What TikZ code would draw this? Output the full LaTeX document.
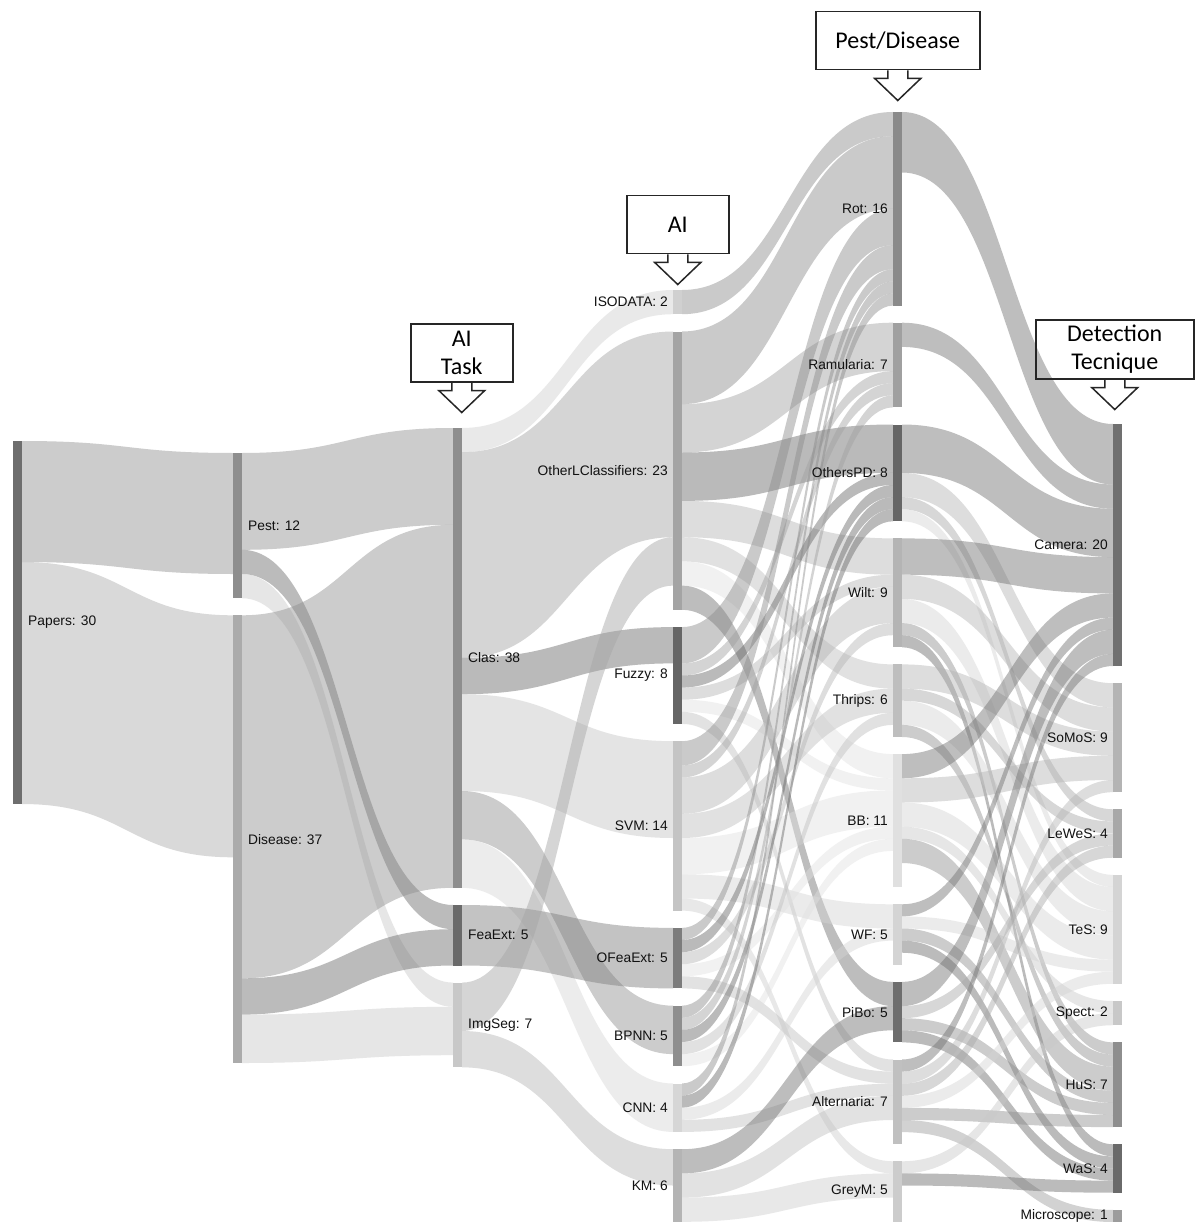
\documentclass[tikz,border=0pt]{standalone}
\usepackage{fontspec}
\setmainfont{Liberation Sans}
\newfontfamily\hfont{Carlito}
\usetikzlibrary{calc}
% node colours (links take the colour of their target node)
\definecolor{cpapers}{HTML}{6E6E6E}
\definecolor{cpest}{HTML}{8E8E8E}
\definecolor{cdisease}{HTML}{ABABAB}
\definecolor{cclas}{HTML}{8E8E8E}
\definecolor{cfeaext}{HTML}{6A6A6A}
\definecolor{cimgseg}{HTML}{C8C8C8}
\definecolor{cisodata}{HTML}{D0D0D0}
\definecolor{colc}{HTML}{A4A4A4}
\definecolor{cfuzzy}{HTML}{666666}
\definecolor{csvm}{HTML}{C4C4C4}
\definecolor{cofeaext}{HTML}{7C7C7C}
\definecolor{cbpnn}{HTML}{8E8E8E}
\definecolor{ccnn}{HTML}{D6D6D6}
\definecolor{ckm}{HTML}{B4B4B4}
\definecolor{crot}{HTML}{8A8A8A}
\definecolor{cramularia}{HTML}{A0A0A0}
\definecolor{cotherspd}{HTML}{666666}
\definecolor{cwilt}{HTML}{B4B4B4}
\definecolor{cthrips}{HTML}{BEBEBE}
\definecolor{cbb}{HTML}{E0E0E0}
\definecolor{cwf}{HTML}{D4D4D4}
\definecolor{cpibo}{HTML}{6E6E6E}
\definecolor{calternaria}{HTML}{C0C0C0}
\definecolor{cgreym}{HTML}{CCCCCC}
\definecolor{ccamera}{HTML}{707070}
\definecolor{csomos}{HTML}{B4B4B4}
\definecolor{clewes}{HTML}{A8A8A8}
\definecolor{ctes}{HTML}{D4D4D4}
\definecolor{cspect}{HTML}{C8C8C8}
\definecolor{chus}{HTML}{8E8E8E}
\definecolor{cwas}{HTML}{6A6A6A}
\definecolor{cmicroscope}{HTML}{9C9C9C}
\definecolor{txt}{HTML}{111111}
\def\U{12.1pt}
\def\fop{0.45}
% band from node #1 (offset #2 units) to node #3 (offset #4 units), width #5 units
\newcommand{\sflow}[5]{%
  \fill[fill=c#3, fill opacity=\fop] let \p1=(#1.north east), \p2=(#3.north west) in
    (\x1,{\y1-(#2)*\U}) .. controls ({(\x1+\x2)/2},{\y1-(#2)*\U}) and ({(\x1+\x2)/2},{\y2-(#4)*\U}) .. (\x2,{\y2-(#4)*\U})
    -- (\x2,{\y2-(#4+#5)*\U}) .. controls ({(\x1+\x2)/2},{\y2-(#4+#5)*\U}) and ({(\x1+\x2)/2},{\y1-(#2+#5)*\U}) .. (\x1,{\y1-(#2+#5)*\U}) -- cycle;}
\newcommand{\sbar}[4]{\node[bar, fill=c#1, minimum height={#4*12.1pt}] (#1) at (#2,#3) {};}
\newcommand{\lblR}[2]{\node[lbl, anchor=west] (l#1) at ([xshift=6pt]#1.east) {#2};}
\newcommand{\lblL}[2]{\node[lbl, anchor=east] (l#1) at ([xshift=-5pt]#1.west) {#2};}
\tikzset{
  bar/.style={rectangle, inner sep=0pt, outer sep=0pt, minimum width=9pt, anchor=north west, draw=none},
  lbl/.style={text=txt, inner sep=0pt, font=\fontsize{13.8}{16}\selectfont},
  hbox/.style={draw=black!85, line width=1.5pt, rectangle, align=center, inner sep=0pt, anchor=north west,
     font=\hfont\fontsize{24}{28}\selectfont},
  harrow/.style={draw=black!85, line width=1.5pt, line join=miter}
}
\begin{document}
\begin{tikzpicture}[x=1pt, y=-1pt]
\fill[white] (0,0) rectangle (1194,1222);
\useasboundingbox (0,0) rectangle (1194,1222);
% ---------- bars ----------
\sbar{papers}{13}{441}{30}
\sbar{pest}{233}{453}{12}
\sbar{disease}{233}{615.3}{37}
\sbar{clas}{453}{428}{38}
\sbar{feaext}{453}{905}{5}
\sbar{imgseg}{453}{982.6}{7}
\sbar{isodata}{673}{290}{2}
\sbar{olc}{673}{331.5}{23}
\sbar{fuzzy}{673}{627.1}{8}
\sbar{svm}{673}{741.2}{14}
\sbar{ofeaext}{673}{927.9}{5}
\sbar{bpnn}{673}{1005.7}{5}
\sbar{cnn}{673}{1083.5}{4}
\sbar{km}{673}{1149.2}{6}
\sbar{rot}{893}{112}{16}
\sbar{ramularia}{893}{322.7}{7}
\sbar{otherspd}{893}{424.5}{8}
\sbar{wilt}{893}{538.4}{9}
\sbar{thrips}{893}{664.4}{6}
\sbar{bb}{893}{754.1}{11}
\sbar{wf}{893}{904.3}{5}
\sbar{pibo}{893}{981.9}{5}
\sbar{alternaria}{893}{1059.5}{7}
\sbar{greym}{893}{1161.3}{5}
\sbar{camera}{1113}{424}{20}
\sbar{somos}{1113}{683.2}{9}
\sbar{lewes}{1113}{809.3}{4}
\sbar{tes}{1113}{874.9}{9}
\sbar{spect}{1113}{1001}{2}
\sbar{hus}{1113}{1042.4}{7}
\sbar{was}{1113}{1144.3}{4}
\sbar{microscope}{1113}{1209.9}{1}
% ---------- flows: papers -> pest/disease ----------
\sflow{papers}{0}{pest}{0}{10}
\sflow{papers}{10}{disease}{0}{20}
% ---------- pest/disease -> AI task ----------
\sflow{pest}{0}{clas}{0}{8}
\sflow{pest}{8}{feaext}{0}{2}
\sflow{pest}{10}{imgseg}{0}{2}
\sflow{disease}{0}{clas}{8}{30}
\sflow{disease}{30}{feaext}{2}{3}
\sflow{disease}{33}{imgseg}{2}{4}
% ---------- AI task -> AI ----------
\sflow{clas}{0}{isodata}{0}{2}
\sflow{clas}{2}{olc}{0}{17}
\sflow{clas}{19}{fuzzy}{0}{3}
\sflow{clas}{22}{svm}{0}{8}
\sflow{clas}{30}{bpnn}{0}{4}
\sflow{clas}{34}{cnn}{0}{4}
\sflow{feaext}{0}{ofeaext}{0}{5}
\sflow{imgseg}{0}{olc}{17}{4}
\sflow{imgseg}{4}{km}{0}{3}
% ---------- AI -> pest/disease ----------
\sflow{isodata}{0}{rot}{0}{2}
\sflow{olc}{0}{rot}{2}{6}
\sflow{olc}{6}{ramularia}{0}{4}
\sflow{olc}{10}{otherspd}{0}{4}
\sflow{olc}{14}{wilt}{0}{3}
\sflow{olc}{17}{thrips}{0}{2}
\sflow{olc}{19}{bb}{0}{2}
\sflow{olc}{21}{pibo}{0}{2}
\sflow{fuzzy}{0}{rot}{8}{3}
\sflow{fuzzy}{3}{ramularia}{4}{1}
\sflow{fuzzy}{4}{otherspd}{4}{1}
\sflow{fuzzy}{5}{wilt}{3}{1}
\sflow{fuzzy}{6}{bb}{2}{1}
\sflow{fuzzy}{7}{alternaria}{0}{1}
\sflow{svm}{0}{rot}{11}{2}
\sflow{svm}{2}{ramularia}{5}{1}
\sflow{svm}{3}{wilt}{4}{3}
\sflow{svm}{6}{thrips}{2}{2}
\sflow{svm}{8}{bb}{3}{3}
\sflow{svm}{11}{wf}{0}{2}
\sflow{svm}{13}{greym}{0}{1}
\sflow{ofeaext}{0}{rot}{13}{1}
\sflow{ofeaext}{1}{otherspd}{5}{1}
\sflow{ofeaext}{2}{wilt}{7}{1}
\sflow{ofeaext}{3}{bb}{6}{1}
\sflow{ofeaext}{4}{alternaria}{1}{1}
\sflow{bpnn}{0}{rot}{14}{1}
\sflow{bpnn}{1}{ramularia}{6}{1}
\sflow{bpnn}{2}{otherspd}{6}{1}
\sflow{bpnn}{3}{thrips}{4}{1}
\sflow{bpnn}{4}{bb}{7}{1}
\sflow{cnn}{0}{rot}{15}{1}
\sflow{cnn}{1}{otherspd}{7}{1}
\sflow{cnn}{2}{wf}{2}{1}
\sflow{cnn}{3}{alternaria}{2}{1}
\sflow{km}{0}{pibo}{2}{2}
\sflow{km}{2}{alternaria}{3}{2}
\sflow{km}{4}{greym}{1}{2}
% ---------- pest/disease -> detection technique ----------
\sflow{rot}{0}{camera}{0}{5}
\sflow{ramularia}{0}{camera}{5}{2}
\sflow{otherspd}{0}{camera}{7}{4}
\sflow{otherspd}{4}{somos}{0}{2}
\sflow{otherspd}{6}{lewes}{0}{1}
\sflow{otherspd}{7}{tes}{0}{1}
\sflow{wilt}{0}{camera}{11}{3}
\sflow{wilt}{3}{somos}{2}{2}
\sflow{wilt}{5}{tes}{1}{2}
\sflow{wilt}{7}{hus}{0}{1}
\sflow{wilt}{8}{was}{0}{1}
\sflow{thrips}{0}{somos}{4}{2}
\sflow{thrips}{2}{lewes}{1}{1}
\sflow{thrips}{3}{tes}{3}{2}
\sflow{thrips}{5}{hus}{1}{1}
\sflow{bb}{0}{camera}{14}{2}
\sflow{bb}{2}{somos}{6}{2}
\sflow{bb}{4}{tes}{5}{2}
\sflow{bb}{6}{spect}{0}{1}
\sflow{bb}{7}{hus}{2}{2}
\sflow{wf}{0}{camera}{16}{1}
\sflow{wf}{1}{tes}{7}{1}
\sflow{wf}{2}{hus}{4}{1}
\sflow{wf}{3}{was}{1}{1}
\sflow{pibo}{0}{camera}{17}{2}
\sflow{pibo}{2}{lewes}{2}{1}
\sflow{pibo}{3}{hus}{5}{1}
\sflow{pibo}{4}{was}{2}{1}
\sflow{alternaria}{0}{camera}{19}{1}
\sflow{alternaria}{1}{somos}{8}{1}
\sflow{alternaria}{2}{lewes}{3}{1}
\sflow{alternaria}{3}{tes}{8}{1}
\sflow{alternaria}{4}{hus}{6}{1}
\sflow{alternaria}{5}{microscope}{0}{1}
\sflow{greym}{0}{spect}{1}{1}
\sflow{greym}{1}{was}{3}{1}
% ---------- labels ----------
\lblR{papers}{Papers: 30}
\lblR{pest}{Pest: 12}
\lblR{disease}{Disease: 37}
\lblR{clas}{Clas: 38}
\lblR{feaext}{FeaExt: 5}
\lblR{imgseg}{ImgSeg: 7}
\lblL{isodata}{ISODATA: 2}
\lblL{olc}{OtherLClassifiers: 23}
\lblL{fuzzy}{Fuzzy: 8}
\lblL{svm}{SVM: 14}
\lblL{ofeaext}{OFeaExt: 5}
\lblL{bpnn}{BPNN: 5}
\lblL{cnn}{CNN: 4}
\lblL{km}{KM: 6}
\lblL{rot}{Rot: 16}
\lblL{ramularia}{Ramularia: 7}
\lblL{otherspd}{OthersPD: 8}
\lblL{wilt}{Wilt: 9}
\lblL{thrips}{Thrips: 6}
\lblL{bb}{BB: 11}
\lblL{wf}{WF: 5}
\lblL{pibo}{PiBo: 5}
\lblL{alternaria}{Alternaria: 7}
\lblL{greym}{GreyM: 5}
\lblL{camera}{Camera: 20}
\lblL{somos}{SoMoS: 9}
\lblL{lewes}{LeWeS: 4}
\lblL{tes}{TeS: 9}
\lblL{spect}{Spect: 2}
\lblL{hus}{HuS: 7}
\lblL{was}{WaS: 4}
\lblL{microscope}{Microscope: 1}
% ---------- header call-outs ----------
\node[hbox, minimum width=102pt, minimum height=58pt] (haitask) at (410,323) {AI\\Task};
\node[hbox, minimum width=102pt, minimum height=58pt] (hai) at (626,195) {AI};
\node[hbox, minimum width=164pt, minimum height=58pt] (hpd) at (815,11) {Pest/Disease};
\node[hbox, minimum width=158pt, minimum height=59pt] (hdt) at (1035,319) {Detection\\Tecnique};
\foreach \h in {haitask,hai,hpd,hdt}{
  \draw[harrow] ([xshift=-10pt]\h.south) -- ++(0,8) -- ++(-13,0) -- ++(23,22) -- ++(23,-22) -- ++(-13,0) -- ++(0,-8);
}
\end{tikzpicture}
\end{document}
